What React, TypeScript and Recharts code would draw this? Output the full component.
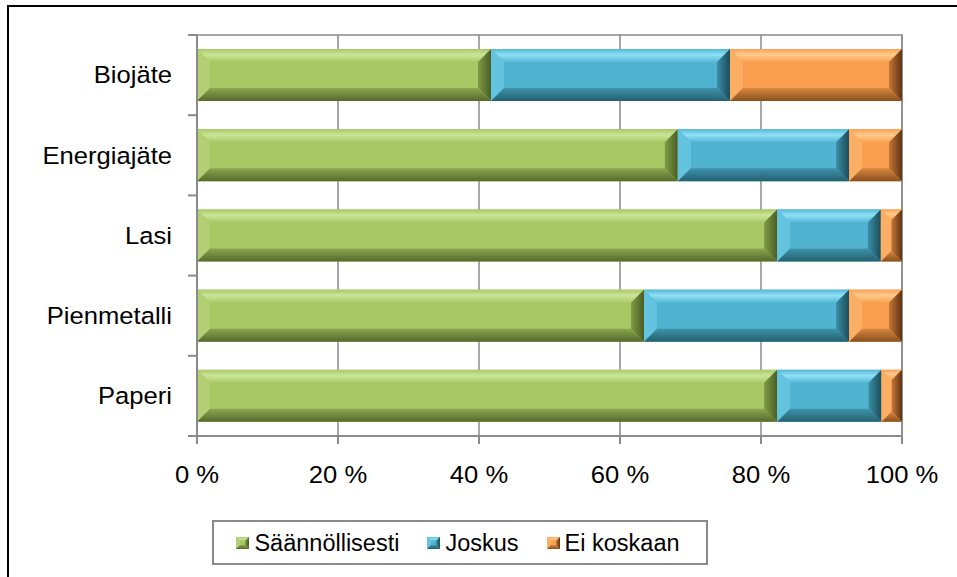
import React from 'react';
import { BarChart, Bar, XAxis, YAxis, CartesianGrid, ReferenceArea } from 'recharts';

// ---- data ----
const categories = ['Biojäte', 'Energiajäte', 'Lasi', 'Pienmetalli', 'Paperi'];
const saannollisesti = [41.7, 68.2, 82.3, 63.4, 82.3];
const joskus = [33.9, 24.3, 14.7, 29.1, 14.8];
const eiKoskaan = [24.4, 7.5, 3.0, 7.5, 2.9];
const xTicks = [0, 20, 40, 60, 80, 100];
const seriesKeys = ['s', 'j', 'e'];
const seriesNames = ['Säännöllisesti', 'Joskus', 'Ei koskaan'];

const data = categories.map((name, i) => ({
  name,
  s: saannollisesti[i],
  j: joskus[i],
  e: eiKoskaan[i],
}));

// ---- styles ----
const FONT = '"Liberation Sans", Arial, sans-serif';
const AXIS = '#8a8a8a';

type Pal = {
  base: string; topA: string; topB: string; left: string;
  rightIn: string; rightOut: string; botIn: string; botOut: string;
};
const PAL: Record<string, Pal> = {
  s: { base: '#A6C764', topA: '#A9C967', topB: '#CBE598', left: '#B2D073', rightIn: '#7F9B45', rightOut: '#4A5D24', botIn: '#8AA74E', botOut: '#56692B' },
  j: { base: '#50B4D1', topA: '#55B8D4', topB: '#8FE0F6', left: '#64C3DE', rightIn: '#3A8EA5', rightOut: '#1C4C59', botIn: '#3F93AB', botOut: '#24606F' },
  e: { base: '#F99E4E', topA: '#F9A152', topB: '#FFCB8C', left: '#FBAE64', rightIn: '#C5763A', rightOut: '#5E3311', botIn: '#D8883F', botOut: '#8A4F1E' },
};

const Gradients = () => (
  <defs>
    {seriesKeys.map((k) => {
      const p = PAL[k];
      return (
        <React.Fragment key={k}>
          <linearGradient id={`${k}-top`} x1="0" y1="0" x2="0" y2="1">
            <stop offset="0" stopColor={p.topA} />
            <stop offset="0.45" stopColor={p.topB} />
            <stop offset="1" stopColor={p.topA} />
          </linearGradient>
          <linearGradient id={`${k}-right`} x1="0" y1="0" x2="1" y2="0">
            <stop offset="0" stopColor={p.rightIn} />
            <stop offset="1" stopColor={p.rightOut} />
          </linearGradient>
          <linearGradient id={`${k}-bottom`} x1="0" y1="0" x2="0" y2="1">
            <stop offset="0" stopColor={p.botIn} />
            <stop offset="1" stopColor={p.botOut} />
          </linearGradient>
        </React.Fragment>
      );
    })}
  </defs>
);

const pts = (a: number[][]) => a.map((q) => q.join(',')).join(' ');

const bevelParts = (k: string, x: number, y: number, w: number, h: number, bMax: number) => {
  const p = PAL[k];
  const b = Math.min(bMax, w / 2, h / 2);
  return (
    <g>
      <rect x={x} y={y} width={w} height={h} fill={p.base} />
      <polygon points={pts([[x, y], [x + w, y], [x + w - b, y + b], [x + b, y + b]])} fill={`url(#${k}-top)`} />
      <polygon points={pts([[x, y], [x + b, y + b], [x + b, y + h - b], [x, y + h]])} fill={p.left} />
      <polygon points={pts([[x + w, y], [x + w - b, y + b], [x + w - b, y + h - b], [x + w, y + h]])} fill={`url(#${k}-right)`} />
      <polygon points={pts([[x, y + h], [x + b, y + h - b], [x + w - b, y + h - b], [x + w, y + h]])} fill={`url(#${k}-bottom)`} />
    </g>
  );
};

const bevelShape = (k: string) => (props: any) => {
  const { x, y, width, height } = props;
  if (!width || width <= 0 || !height) return <g />;
  return bevelParts(k, x, y, width, height, 13);
};

const YTick = (props: any) => {
  const { x, y, payload } = props;
  const index = props.index ?? payload?.index ?? 0;
  const off = payload?.offset ?? 0;
  const lx = x + 16;
  return (
    <g>
      {off > 0 && <line x1={lx} x2={lx + 9} y1={y - off} y2={y - off} stroke={AXIS} strokeWidth={2} />}
      {off > 0 && index === categories.length - 1 && (
        <line x1={lx} x2={lx + 9} y1={y + off} y2={y + off} stroke={AXIS} strokeWidth={2} />
      )}
      <text
        transform={`translate(${x},${y}) scale(1.09,1)`}
        textAnchor="end"
        dy="0.355em"
        fontSize={23.5}
        fontFamily={FONT}
        fill="#000"
      >
        {payload.value}
      </text>
    </g>
  );
};

const XTick = (props: any) => {
  const { x, y, payload } = props;
  return (
    <text
      transform={`translate(${x},${y}) scale(1.09,1)`}
      textAnchor="middle"
      dy="0.71em"
      fontSize={23.5}
      fontFamily={FONT}
      fill="#000"
    >
      {`${payload.value} %`}
    </text>
  );
};

const LegendBox = () => (
  <div
    style={{
      position: 'absolute',
      left: 212,
      top: 520,
      width: 496,
      height: 45,
      boxSizing: 'border-box',
      border: `2px solid ${AXIS}`,
      background: '#fff',
      display: 'flex',
      alignItems: 'center',
      justifyContent: 'center',
      fontFamily: FONT,
      fontSize: 23.5,
      color: '#000',
      paddingRight: 4,
    }}
  >
    {seriesKeys.map((k, i) => (
      <div key={k} style={{ display: 'flex', alignItems: 'center', marginLeft: i === 0 ? 0 : 28 }}>
        <svg width={13} height={12} style={{ marginRight: 5, display: 'block' }}>
          {bevelParts(k, 0, 0, 13, 12, 4)}
        </svg>
        <span style={{ lineHeight: '26px', whiteSpace: 'nowrap' }}>{seriesNames[i]}</span>
      </div>
    ))}
  </div>
);

export default function App() {
  return (
    <div style={{ position: 'fixed', left: 0, top: 0, width: 957, height: 577, overflow: 'hidden', background: '#fff' }}>
      <div
        style={{
          position: 'absolute',
          left: 7,
          top: 5,
          width: 1200,
          height: 1200,
          borderLeft: '2px solid #000',
          borderTop: '2px solid #000',
        }}
      />
      <div style={{ position: 'absolute', left: 0, top: 0 }}>
        <BarChart
          width={957}
          height={577}
          data={data}
          layout="vertical"
          margin={{ top: 35, right: 55, left: 0, bottom: 111 }}
          barCategoryGap="17.5%"
        >
          <Gradients />
          <CartesianGrid horizontal={false} stroke={AXIS} strokeWidth={1.5} />
          <ReferenceArea x1={0} x2={100} fill="none" stroke={AXIS} strokeWidth={1.5} fillOpacity={0} />
          <XAxis
            type="number"
            domain={[0, 100]}
            ticks={xTicks}
            interval={0}
            height={30}
            tickSize={8}
            tickMargin={22}
            axisLine={{ stroke: AXIS, strokeWidth: 2 }}
            tickLine={{ stroke: AXIS, strokeWidth: 2 }}
            tick={<XTick />}
          />
          <YAxis
            type="category"
            dataKey="name"
            width={197}
            tickSize={9}
            tickMargin={16}
            tickLine={false}
            axisLine={{ stroke: AXIS, strokeWidth: 2 }}
            tick={<YTick />}
            interval={0}
          />
          {seriesKeys.map((k, i) => (
            <Bar
              key={k}
              dataKey={k}
              name={seriesNames[i]}
              stackId="a"
              fill={PAL[k].base}
              shape={bevelShape(k)}
              isAnimationActive={false}
            />
          ))}
        </BarChart>
      </div>
      <LegendBox />
    </div>
  );
}
